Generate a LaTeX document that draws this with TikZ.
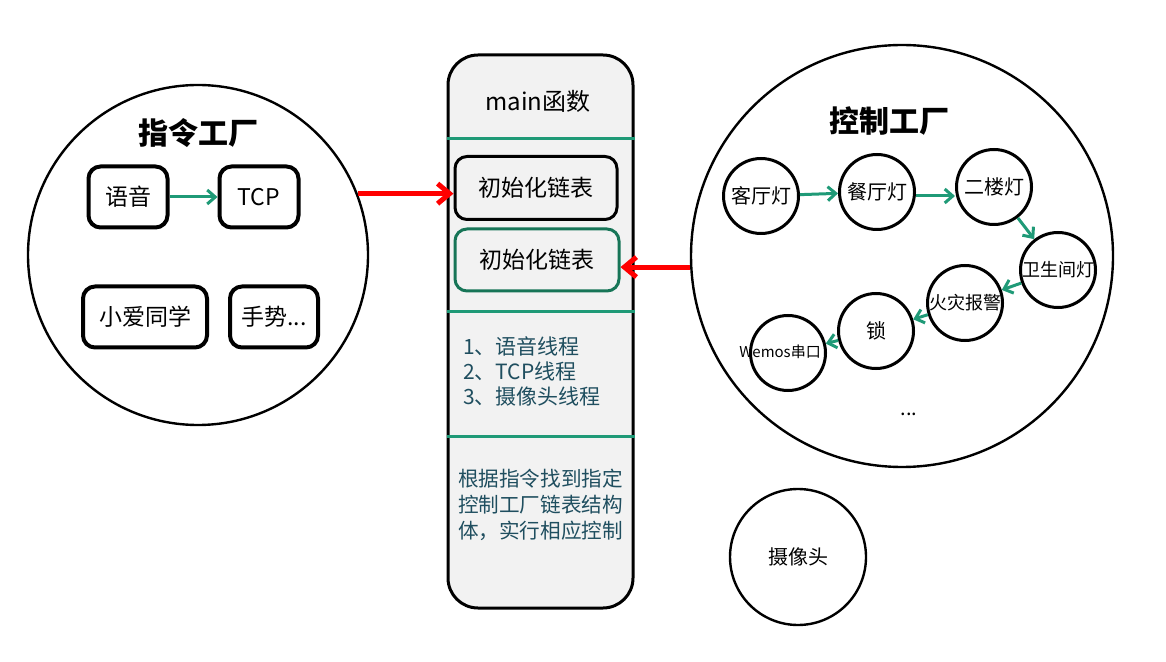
\documentclass[tikz,border=0pt]{standalone}
\usepackage{fontspec}
\setmainfont{Noto Sans CJK SC}
\usepackage{tikz}
\usetikzlibrary{arrows.meta}
\usetikzlibrary{calc}
\usetikzlibrary{positioning}
\definecolor{lgreen}{RGB}{31,154,119}
\definecolor{dgreen}{RGB}{23,117,87}
\definecolor{tblue}{RGB}{31,78,95}
\definecolor{lgray}{RGB}{242,242,242}
\tikzset{
  cmdbox/.style={draw, line width=2pt, rounded corners=6pt, minimum height=30.5pt, font=\fontsize{11.5}{13}\selectfont},
  ctlnode/.style={draw, circle, line width=1.5pt, inner sep=0pt, minimum size=37.5pt, font=\fontsize{10}{12}\selectfont},
  bigcirc/.style={draw, circle, line width=1.2pt},
  garrow/.style={->, >={Straight Barb[length=4pt,width=7pt]}, color=lgreen, line width=1.5pt},
  rarrow/.style={->, >={Straight Barb[length=6pt,width=10pt]}, color=red, line width=2.5pt},
  sepline/.style={color=lgreen, line width=1.5pt}
}
\begin{document}
\begin{tikzpicture}[x=0.5pt,y=-0.5pt]
    \useasboundingbox (0,0) rectangle (1166,662);
    % left circle
    \node[bigcirc, minimum size=170pt] (L) at (198,255) {};
    \node[font=\fontsize{15}{18}\selectfont\bfseries] (LT) at (198,133) {指令工厂};
    \node[cmdbox, minimum width=39.5pt] (V) at (128,197) {语音};
    \node[cmdbox, minimum width=39.5pt] (T) at (259,197) {TCP};
    \node[cmdbox, minimum width=62pt] (X) at (145,317) {小爱同学};
    \node[cmdbox, minimum width=44pt] (G) at (274,317) {手势...};
    \path [garrow] (V) edge (T);
    % main
    \node[draw, line width=1.5pt, fill=lgray, rounded corners=15pt, minimum width=92.5pt, minimum height=276.5pt] (M) at (540.5,331.5) {};
    \node[font=\fontsize{12}{14}\selectfont] (MT) at (538,101) {main函数};
    \draw[sepline] (M.west |- 0,139) -- (M.east |- 0,139);
    \draw[sepline] (M.west |- 0,312) -- (M.east |- 0,312);
    \draw[sepline] (M.west |- 0,436) -- (M.east |- 0,436);
    \node[cmdbox, fill=lgray, line width=1.5pt, minimum width=81pt, minimum height=31.5pt] (B1) at (536,188) {初始化链表};
    \node[cmdbox, draw=dgreen, fill=lgray, line width=1.5pt, minimum width=82pt, minimum height=31pt] (B2) at (537,260) {初始化链表};
    \node[anchor=west, align=left, text=tblue, font=\fontsize{10.5}{12.5}\selectfont] (TH) at (456,371) {1、语音线程\\2、TCP线程\\3、摄像头线程};
    \node[anchor=west, align=left, text=tblue, font=\fontsize{10.3}{13}\selectfont] (DO) at (451,505) {根据指令找到指定\\控制工厂链表结构\\体，实行相应控制};
    % right circle
    \node[bigcirc, minimum size=211pt] (R) at (902,256) {};
    \node[font=\fontsize{15}{18}\selectfont\bfseries] (RT) at (889,121) {控制工厂};
    \node[ctlnode] (K) at (761,196) {客厅灯};
    \node[ctlnode] (C) at (877,192) {餐厅灯};
    \node[ctlnode] (E) at (994,187) {二楼灯};
    \node[ctlnode, font=\fontsize{9}{11}\selectfont] (W) at (1058,270) {卫生间灯};
    \node[ctlnode, font=\fontsize{9}{11}\selectfont] (H) at (965,303) {火灾报警};
    \node[ctlnode] (S) at (876,331) {锁};
    \node[ctlnode] (WS) at (788,353) {};
    \node[font=\fontsize{7.5}{9}\selectfont] (WT) at (780,352) {Wemos串口};
    \node (DT) at (909,414) {...};
    \path [garrow] (K) edge (C);
    \path [garrow] (C.east |- K) edge (E.west |- K);
    \path [garrow] (E) edge (W);
    \path [garrow] (W) edge (H);
    \path [garrow] (H) edge (S);
    \path [garrow] (S) edge (WS);
    % camera
    \node[draw, circle, line width=1.2pt, minimum size=68pt, font=\fontsize{10}{12}\selectfont] (CAM) at (798,557) {摄像头};
    % red arrows
    \path [rarrow] (L.21) edge (L.21 -| B1.west);
    \path [rarrow] (R.183) edge (R.183 -| B2.east);
\end{tikzpicture}
\end{document}
